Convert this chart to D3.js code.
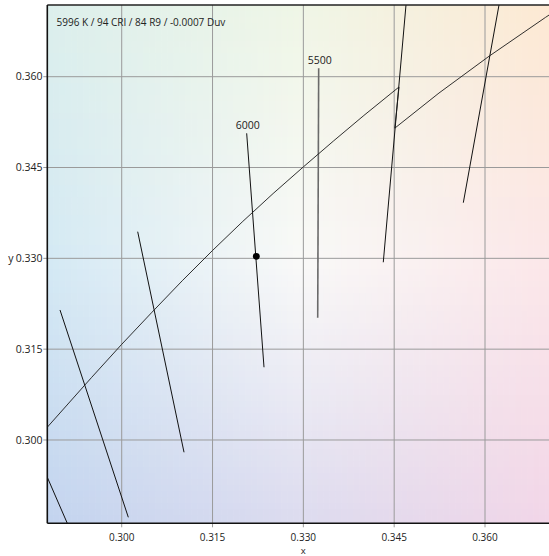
<!DOCTYPE html>
<html><head><meta charset="utf-8">
<script src="https://cdn.jsdelivr.net/npm/d3@7"></script>
<style>html,body{margin:0;padding:0;background:#fff;} svg{display:block;font-family:"Open Sans","Noto Sans",sans-serif;}</style>
</head><body>
<script>
// ---- data ----
const xTicks = [0.300, 0.315, 0.330, 0.345, 0.360];
const yTicks = [0.300, 0.315, 0.330, 0.345, 0.360];
const title = "5996 K / 94 CRI / 84 R9 / -0.0007 Duv";
// reference locus (daylight part, then Planckian part)
const locusX = [0.2877, 0.2950, 0.3000, 0.3050, 0.3100, 0.3150, 0.3200, 0.3250, 0.3300, 0.3350, 0.3400, 0.3458, 0.3451, 0.3524, 0.3607, 0.3700, 0.3805];
const locusY = [0.3021, 0.3103, 0.3158, 0.3211, 0.3263, 0.3313, 0.3361, 0.3407, 0.3451, 0.3494, 0.3536, 0.3583, 0.3515, 0.3573, 0.3634, 0.3698, 0.3767];
// isotherms
const isoCCT    = [9000, 8000, 7000, 6000, 5500, 5000, 4500];
const isoLabel  = ["", "", "", "6000", "5500", "", ""];
const isoX1 = [0.27965, 0.28981, 0.30264, 0.32064, 0.33253, 0.34717, 0.36276];
const isoY1 = [0.31239, 0.32147, 0.33440, 0.35065, 0.36139, 0.37432, 0.37432];
const isoX2 = [0.29149, 0.30109, 0.31029, 0.32350, 0.33237, 0.34320, 0.35642];
const isoY2 = [0.28514, 0.28723, 0.29797, 0.31201, 0.32020, 0.32935, 0.33919];
// measured point
const pointX = [0.32223];
const pointY = [0.33034];

// ---- layout ----
const W = 549, H = 556;
const L = 47.3, R = 549, T = 5, B = 523.3;
const x = d3.scaleLinear().domain([0.28771, 0.37057]).range([L, R]);
const y = d3.scaleLinear().domain([0.28624, 0.37184]).range([B, T]);

const svg = d3.select("body").append("svg").attr("width", W).attr("height", H);
svg.append("defs").append("clipPath").attr("id", "plot")
  .append("rect").attr("x", L).attr("y", T).attr("width", R - L).attr("height", B - T);

// background tint (bilinear between 3x3 sampled colours)
const bgRows = [
  ["#dcefec", "#eff6e6", "#fde9d3"],
  ["#d4e9f4", "#f9f9f8", "#fbe7e9"],
  ["#c3d4ef", "#dcdbef", "#f2d6e8"]
];
const bg = svg.append("g").attr("clip-path", "url(#plot)");
const cell = 6;
const fx = t => t < 0.5 ? [0, t * 2] : [1, (t - 0.5) * 2];
for (let py = T; py < B; py += cell) {
  const ty = (py + cell / 2 - T) / (B - T);
  const [ry, fy] = fx(Math.min(ty, 0.9999));
  const rowCols = [0, 1, 2].map(c => d3.interpolateRgb(bgRows[ry][c], bgRows[ry + 1][c])(fy));
  for (let px = L; px < R; px += cell) {
    const tx = (px + cell / 2 - L) / (R - L);
    const [cx, fxx] = fx(Math.min(tx, 0.9999));
    const col = d3.interpolateRgb(rowCols[cx], rowCols[cx + 1])(fxx);
    bg.append("rect").attr("x", px).attr("y", py).attr("width", cell + 0.6).attr("height", cell + 0.6)
      .attr("fill", col);
  }
}

// grid
const grid = svg.append("g");
grid.selectAll(".gx").data(xTicks).join("line")
  .attr("x1", d => x(d)).attr("x2", d => x(d)).attr("y1", T).attr("y2", B + 4)
  .attr("stroke", "#9a9a9a").attr("stroke-width", 1);
grid.selectAll(".gy").data(yTicks).join("line")
  .attr("y1", d => y(d)).attr("y2", d => y(d)).attr("x1", L - 4).attr("x2", R)
  .attr("stroke", "#9a9a9a").attr("stroke-width", 1);

// tick labels
svg.append("g").selectAll("text").data(xTicks).join("text")
  .attr("x", d => x(d)).attr("y", 540.5).attr("text-anchor", "middle")
  .attr("font-size", 10).attr("fill", "#222").text(d3.format(".3f"));
svg.append("g").selectAll("text").data(yTicks).join("text")
  .attr("x", 42.5).attr("y", d => y(d) + 3.6).attr("text-anchor", "end")
  .attr("font-size", 10.5).attr("fill", "#222").text(d3.format(".3f"));
svg.append("text").attr("x", x(0.330)).attr("y", 554).attr("text-anchor", "middle")
  .attr("font-size", 9.5).attr("fill", "#222").text("x");
svg.append("text").attr("x", 11).attr("y", y(0.330) + 3.6).attr("text-anchor", "middle")
  .attr("font-size", 10.5).attr("fill", "#222").text("y");

// marks
const plot = svg.append("g").attr("clip-path", "url(#plot)");
const iso = isoCCT.map((c, i) => ({c, lab: isoLabel[i], x1: isoX1[i], y1: isoY1[i], x2: isoX2[i], y2: isoY2[i]}));
plot.selectAll(".iso").data(iso).join("line")
  .attr("x1", d => x(d.x1)).attr("y1", d => y(d.y1)).attr("x2", d => x(d.x2)).attr("y2", d => y(d.y2))
  .attr("stroke", d => d.c === 5500 ? "#6a6a6a" : "#111")
  .attr("stroke-width", d => d.c === 5500 ? 1.6 : 1);
const locus = locusX.map((v, i) => [v, locusY[i]]);
plot.append("path").datum(locus)
  .attr("d", d3.line().x(d => x(d[0])).y(d => y(d[1])).curve(d3.curveLinear))
  .attr("fill", "none").attr("stroke", "#1a1a1a").attr("stroke-width", 0.9);
plot.selectAll(".isolab").data(iso.filter(d => d.lab)).join("text")
  .attr("x", d => x(d.x1) + 1).attr("y", d => y(d.y1) - 4).attr("text-anchor", "middle")
  .attr("font-size", 10.5).attr("fill", "#222").text(d => d.lab);
plot.selectAll(".pt").data(pointX.map((v, i) => [v, pointY[i]])).join("circle")
  .attr("cx", d => x(d[0])).attr("cy", d => y(d[1])).attr("r", 3.4).attr("fill", "#000");

// frame
svg.append("line").attr("x1", L).attr("x2", R).attr("y1", T).attr("y2", T).attr("stroke", "#222").attr("stroke-width", 1.5);
svg.append("line").attr("x1", L).attr("x2", R).attr("y1", B).attr("y2", B).attr("stroke", "#111").attr("stroke-width", 1.6);
svg.append("line").attr("x1", L).attr("x2", L).attr("y1", T).attr("y2", B).attr("stroke", "#111").attr("stroke-width", 1.6);

// title
svg.append("text").attr("x", 56.5).attr("y", 26).attr("font-size", 10).attr("fill", "#222").text(title);
</script>
</body></html>
